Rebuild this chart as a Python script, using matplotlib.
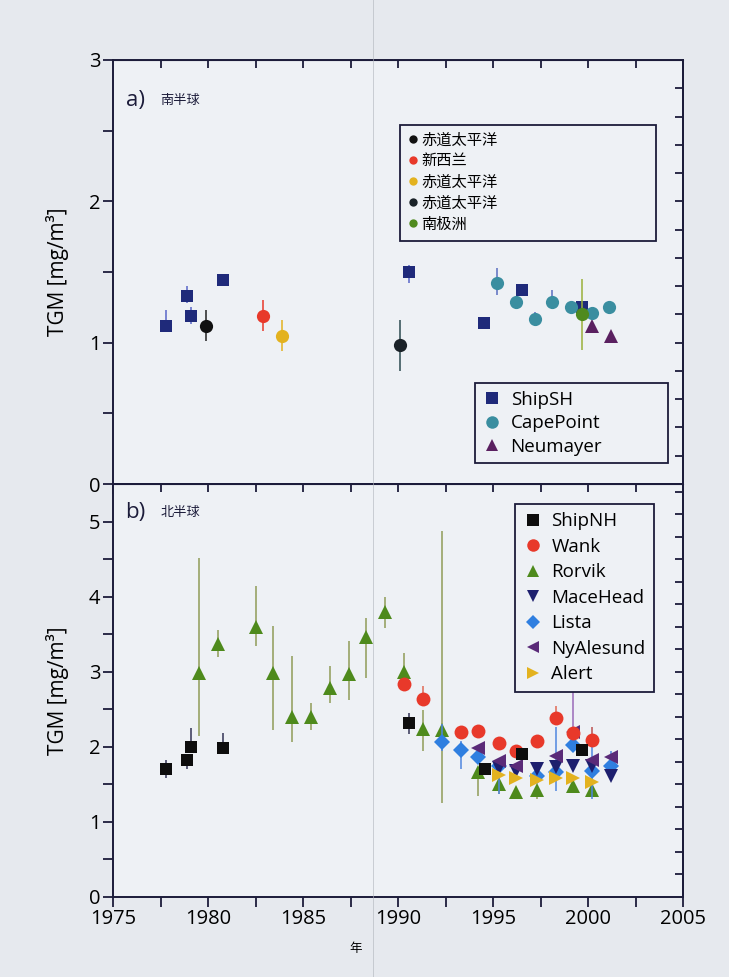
import numpy as np
import matplotlib
matplotlib.use('Agg')
import matplotlib.pyplot as plt
from matplotlib.lines import Line2D

plt.rcParams['font.family'] = ['Open Sans', 'Noto Sans CJK SC', 'DejaVu Sans']

# ---- panel a) southern hemisphere ----
ship_sh_x = [1977.8, 1978.9, 1979.1, 1980.8, 1990.6, 1994.5, 1996.5, 1999.7]
ship_sh_y = [1.12, 1.33, 1.19, 1.44, 1.50, 1.14, 1.37, 1.25]
ship_sh_lo = [0, 0.05, 0.06, 0.03, 0.08, 0, 0, 0]
ship_sh_hi = [0.11, 0.07, 0.06, 0.03, 0.05, 0, 0, 0]

cape_x = [1995.2, 1996.2, 1997.2, 1998.1, 1999.1, 2000.2, 2001.1]
cape_y = [1.42, 1.29, 1.17, 1.29, 1.25, 1.21, 1.25]
cape_lo = [0.08, 0, 0.04, 0, 0, 0, 0]
cape_hi = [0.11, 0, 0.05, 0.08, 0, 0, 0]

neumayer_x = [2000.2, 2001.2]
neumayer_y = [1.12, 1.05]

cruise_labels = ['赤道太平洋', '新西兰', '赤道太平洋', '赤道太平洋', '南极洲']
cruise_colors = ['#111111', '#e8392a', '#e3b21f', '#1a2228', '#4f8a1e']
cruise_x = [1979.9, 1982.9, 1983.9, 1990.1, 1999.7]
cruise_y = [1.12, 1.19, 1.05, 0.98, 1.20]
cruise_err = [0.11, 0.11, 0.11, 0.18, 0.25]

# ---- panel b) northern hemisphere ----
ship_nh_x = [1977.8, 1978.9, 1979.1, 1980.8, 1990.6, 1994.6, 1996.5, 1999.7]
ship_nh_y = [1.71, 1.82, 2.00, 1.99, 2.32, 1.70, 1.90, 1.96]
ship_nh_lo = [0.13, 0.11, 0, 0, 0.15, 0, 0, 0]
ship_nh_hi = [0.11, 0.08, 0.25, 0.20, 0.13, 0, 0, 0]

wank_x = [1990.3, 1991.3, 1993.3, 1994.2, 1995.3, 1996.2, 1997.3, 1998.3, 1999.2, 2000.2]
wank_y = [2.83, 2.64, 2.20, 2.21, 2.05, 1.94, 2.08, 2.38, 2.18, 2.09]
wank_lo = [0, 0, 0, 0, 0, 0, 0, 0, 0, 0]
wank_hi = [0, 0.17, 0, 0, 0, 0, 0, 0.17, 0, 0.17]

rorvik_x = [1979.5, 1980.5, 1982.5, 1983.4, 1984.4, 1985.4, 1986.4, 1987.4, 1988.3, 1989.3,
            1990.3, 1991.3, 1992.3, 1994.2, 1995.3, 1996.2, 1997.3, 1999.2, 2000.2]
rorvik_y = [2.98, 3.37, 3.60, 2.98, 2.40, 2.40, 2.78, 2.97, 3.46, 3.79,
            3.00, 2.24, 2.22, 1.66, 1.50, 1.40, 1.42, 1.48, 1.43]
rorvik_lo = [0.84, 0.17, 0.26, 0.75, 0.33, 0.17, 0.20, 0.35, 0.55, 0.21,
             0.20, 0.29, 0.97, 0.31, 0.13, 0, 0.11, 0, 0]
rorvik_hi = [1.53, 0.19, 0.54, 0.63, 0.81, 0.19, 0.30, 0.44, 0.26, 0.21,
             0.25, 0.25, 2.66, 0, 0, 0, 0, 0, 0]

macehead_x = [1995.3, 1996.2, 1997.3, 1998.3, 1999.2, 2000.2, 2001.2]
macehead_y = [1.72, 1.68, 1.71, 1.73, 1.74, 1.75, 1.61]

lista_x = [1992.3, 1993.3, 1994.2, 1995.3, 1997.3, 1998.3, 1999.2, 2000.2, 2001.2]
lista_y = [2.06, 1.96, 1.86, 1.74, 1.61, 1.66, 2.03, 1.68, 1.74]
lista_lo = [0.11, 0.25, 0, 0.37, 0, 0.25, 0, 0.38, 0]
lista_hi = [0.25, 0.12, 0, 0, 0, 0.61, 0, 0.58, 0.20]

nyalesund_x = [1994.2, 1995.3, 1996.2, 1998.3, 1999.2, 2000.2, 2001.2]
nyalesund_y = [1.98, 1.81, 1.75, 1.88, 2.20, 1.82, 1.87]
nyalesund_hi = [0, 0, 0, 0, 0.55, 0, 0]

alert_x = [1995.3, 1996.2, 1997.3, 1998.3, 1999.2, 2000.2]
alert_y = [1.62, 1.59, 1.56, 1.58, 1.58, 1.53]

x_ticks = [1975, 1980, 1985, 1990, 1995, 2000, 2005]

BG = '#e6e9ee'
AXBG = '#eef1f5'
INK = '#1c1c3a'


def series(ax, x, y, marker, color, ecolor, ms, lo=None, hi=None, z=3):
    if lo is None and hi is None:
        ax.plot(x, y, ls='none', marker=marker, color=color, ms=ms, mew=0, zorder=z)
        return
    lo = np.zeros(len(x)) if lo is None else np.array(lo)
    hi = np.zeros(len(x)) if hi is None else np.array(hi)
    ax.errorbar(x, y, yerr=[lo, hi], ls='none', marker=marker, color=color, ms=ms, mew=0,
                ecolor=ecolor, elinewidth=1.1, capsize=5, capthick=1.2, zorder=z)


def style_axes(ax, ymax, right_step):
    ax.set_facecolor(AXBG)
    ax.set_xlim(1975, 2005)
    ax.set_ylim(0, ymax)
    for s in ax.spines.values():
        s.set_color(INK)
        s.set_linewidth(1.4)
    ax.set_xticks(x_ticks)
    ax.set_xticks(np.arange(1977.5, 2005, 5), minor=True)
    ax.set_yticks(np.arange(0, ymax + 0.01, 1))
    ax.set_yticks(np.arange(0.5, ymax, 1), minor=True)
    ax.tick_params(which='both', direction='out', color=INK, width=1.3, length=7,
                   labelsize=14.5, top=False, right=False, pad=2)
    top = ax.secondary_xaxis('top')
    top.set_xticks(np.arange(1977.5, 2005, 2.5))
    top.tick_params(direction='in', length=6, width=1.3, color=INK, labeltop=False)
    top.spines['top'].set_color(INK)
    right = ax.secondary_yaxis('right')
    right.set_yticks(np.arange(right_step, ymax - 0.05, right_step))
    right.tick_params(direction='in', length=6, width=1.3, color=INK, labelright=False)
    right.spines['right'].set_color(INK)
    right.spines['right'].set_linewidth(1.4)


fig = plt.figure(figsize=(7.29, 9.77), dpi=100, facecolor=BG)
ax1 = fig.add_axes([0.155, 0.5046, 0.782, 0.434])
ax2 = fig.add_axes([0.155, 0.0819, 0.782, 0.4227])

leg_kw = dict(mode='expand', borderaxespad=0, fancybox=False, framealpha=1,
              facecolor=AXBG, edgecolor=INK)

# panel a
style_axes(ax1, 3, 0.2)
ax1.set_xticklabels([])
series(ax1, ship_sh_x, ship_sh_y, 's', '#1f2a7a', '#5866c8', 8.5, ship_sh_lo, ship_sh_hi)
series(ax1, cape_x, cape_y, 'o', '#3a8ea0', '#5a6ec0', 9.5, cape_lo, cape_hi)
series(ax1, neumayer_x, neumayer_y, '^', '#5a2060', '#5a2060', 10)
cruise_ecolors = ['#222222', '#e8392a', '#e3b21f', '#2c4a50', '#9ab03a']
for cx, cy, ce, cc, ec in zip(cruise_x, cruise_y, cruise_err, cruise_colors, cruise_ecolors):
    series(ax1, [cx], [cy], 'o', cc, ec, 9.5, [ce], [ce], z=4)

h1 = [Line2D([], [], ls='none', marker='o', ms=6, mew=0, color=c) for c in cruise_colors]
leg1 = ax1.legend(h1, cruise_labels, loc='upper left', bbox_to_anchor=(0.504, 0.583, 0.449, 0.264),
                  fontsize=11, handlelength=0.6, handletextpad=0.2,
                  labelspacing=0.4, borderpad=0.55, **leg_kw)
leg1.get_frame().set_linewidth(1.3)
ax1.add_artist(leg1)
h2 = [Line2D([], [], ls='none', marker='s', ms=8, mew=0, color='#1f2a7a'),
      Line2D([], [], ls='none', marker='o', ms=9, mew=0, color='#3a8ea0'),
      Line2D([], [], ls='none', marker='^', ms=9, mew=0, color='#5a2060')]
leg2 = ax1.legend(h2, ['ShipSH', 'CapePoint', 'Neumayer'], loc='upper left',
                  bbox_to_anchor=(0.635, 0.045, 0.339, 0.193), fontsize=13.5,
                  handlelength=1.0, handletextpad=0.5, labelspacing=0.3, borderpad=0.4,
                  **leg_kw)
leg2.get_frame().set_linewidth(1.3)
ax1.text(0.022, 0.905, 'a)', transform=ax1.transAxes, fontsize=16, color=INK, va='center')
ax1.text(0.083, 0.905, '南半球', transform=ax1.transAxes, fontsize=9.5, color=INK, va='center')
ax1.set_ylabel('TGM [mg/m³]', fontsize=15, labelpad=14)

# panel b
style_axes(ax2, 5.5, 0.3)
series(ax2, rorvik_x, rorvik_y, '^', '#4e8a1c', '#8f9c58', 10, rorvik_lo, rorvik_hi, z=3)
series(ax2, lista_x, lista_y, 'D', '#2f7fe0', '#4f86e0', 8, lista_lo, lista_hi, z=4)
series(ax2, macehead_x, macehead_y, 'v', '#1d1f6e', '#1d1f6e', 10, z=5)
series(ax2, alert_x, alert_y, '>', '#e3b21f', '#e3b21f', 10, z=6)
series(ax2, nyalesund_x, nyalesund_y, '<', '#5a2a78', '#9a6ab8', 10, None, nyalesund_hi, z=6)
series(ax2, wank_x, wank_y, 'o', '#e8392a', '#e06a55', 10, wank_lo, wank_hi, z=7)
series(ax2, ship_nh_x, ship_nh_y, 's', '#0d0d0d', '#333355', 8, ship_nh_lo, ship_nh_hi, z=8)

h3 = [Line2D([], [], ls='none', marker='s', ms=8, mew=0, color='#0d0d0d'),
      Line2D([], [], ls='none', marker='o', ms=9, mew=0, color='#e8392a'),
      Line2D([], [], ls='none', marker='^', ms=9, mew=0, color='#4e8a1c'),
      Line2D([], [], ls='none', marker='v', ms=9, mew=0, color='#1d1f6e'),
      Line2D([], [], ls='none', marker='D', ms=7, mew=0, color='#2f7fe0'),
      Line2D([], [], ls='none', marker='<', ms=9, mew=0, color='#5a2a78'),
      Line2D([], [], ls='none', marker='>', ms=9, mew=0, color='#e3b21f')]
leg3 = ax2.legend(h3, ['ShipNH', 'Wank', 'Rorvik', 'MaceHead', 'Lista', 'NyAlesund', 'Alert'],
                  loc='upper left', bbox_to_anchor=(0.705, 0.487, 0.244, 0.465),
                  fontsize=13.5, handlelength=1.0, handletextpad=0.5, labelspacing=0.4,
                  borderpad=0.45, **leg_kw)
leg3.get_frame().set_linewidth(1.3)
leg3.set_zorder(20)
ax2.text(0.022, 0.93, 'b)', transform=ax2.transAxes, fontsize=16, color=INK, va='center')
ax2.text(0.083, 0.93, '北半球', transform=ax2.transAxes, fontsize=9.5, color=INK, va='center')
ax2.set_ylabel('TGM [mg/m³]', fontsize=15, labelpad=14)
ax2.set_xlabel('年', fontsize=9)
ax2.xaxis.set_label_coords(0.426, -0.11)

# faint scan crease
fig.add_artist(Line2D([0.512, 0.512], [0.0, 1.0], transform=fig.transFigure,
                      color='#b0b4bc', lw=0.7, alpha=0.6, zorder=1))

fig.savefig('out.png', dpi=100, facecolor=BG)
